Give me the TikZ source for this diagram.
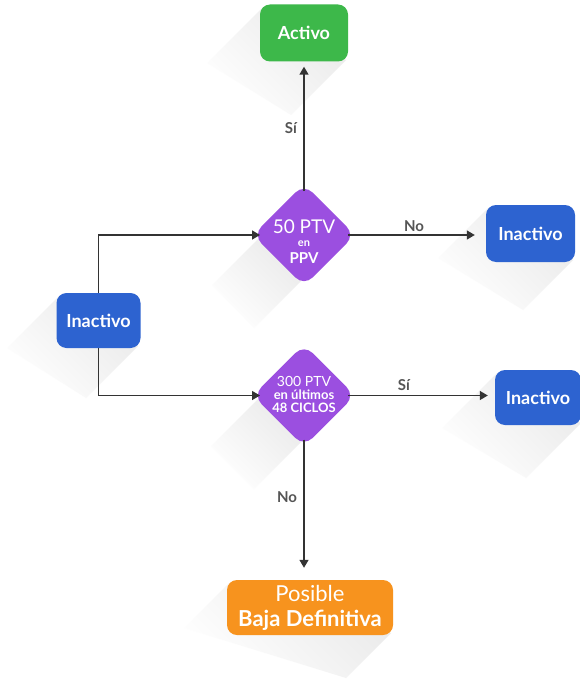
\documentclass[tikz,border=0pt]{standalone}
\usepackage{fontspec}
\setmainfont{Lato}
\usetikzlibrary{shapes.geometric,arrows.meta,calc}
\definecolor{cgreen}{HTML}{3DB84A}
\definecolor{cblue}{HTML}{2D63D0}
\definecolor{cpurple}{HTML}{9B4FE0}
\definecolor{corange}{HTML}{F7931E}
\definecolor{cline}{HTML}{333333}
\definecolor{clabel}{HTML}{555555}
\newcommand\longshd[3]{%
  \shade[top color=black!16, bottom color=white, shading angle=-45, opacity=.5]
    (#1) -- ++(-#3,#3) -- ($(#2)+(-#3,#3)$) -- (#2) -- cycle;}
\begin{document}
\begin{tikzpicture}[x=1pt,y=-1pt,
  box/.style={rounded corners=10pt, text=white, inner sep=0pt,
    font=\bfseries\fontsize{18}{20}\selectfont},
  dia/.style={diamond, aspect=1, fill=cpurple, rounded corners=12pt,
    minimum width=98pt, minimum height=98pt, inner sep=0pt, outer sep=-5pt},
  dtext/.style={text=white, inner sep=0pt},
  arr/.style={draw=cline, line width=1.4pt, -{Triangle[length=8pt,width=9pt]}},
  lbl/.style={text=clabel, font=\bfseries\fontsize{15}{17}\selectfont, inner sep=0pt}]
\fill[white] (0,0) rectangle (580,690);
\path[use as bounding box] (0,0) rectangle (580,690);

% long shadows
\longshd{262,8}{346,60}{55}
\longshd{59,296}{138,346}{52}
\longshd{488,208}{573,260}{50}
\longshd{497,373}{581,423}{55}
\longshd{229,583}{391,633}{45}
\longshd{262,235}{304,278}{50}
\longshd{261,396}{304,439}{50}

% nodes
\node[box, fill=cgreen, minimum width=88pt, minimum height=57pt] (act) at (304,33) {Activo};
\node[box, fill=cblue, minimum width=84pt, minimum height=55pt] (inL) at (98.5,320.5) {Inactivo};
\node[box, fill=cblue, minimum width=89pt, minimum height=57pt] (inR1) at (530.5,233.5) {Inactivo};
\node[box, fill=cblue, minimum width=86pt, minimum height=55pt] (inR2) at (538,397.5) {Inactivo};
\node[box, fill=corange, minimum width=166pt, minimum height=55pt, align=center,
  font=\fontsize{22}{25}\selectfont] (baja) at (310,607.5)
  {Posible\\\textbf{Baja Definitiva}};

\node[dia] (d1) at (304,235) {};
\node[dtext, font=\fontsize{19}{21}\selectfont] (d1a) at (304,227) {50 PTV};
\node[dtext, font=\bfseries\fontsize{11}{12}\selectfont] (d1b) at (304,244) {en};
\node[dtext, font=\bfseries\fontsize{15}{16}\selectfont] (d1c) at (304,258) {PPV};

\node[dia] (d2) at (304,395.5) {};
\node[dtext, font=\fontsize{14}{15}\selectfont] (d2a) at (304,381) {300 PTV};
\node[dtext, font=\bfseries\fontsize{13}{14}\selectfont] (d2b) at (304,394.5) {en últimos};
\node[dtext, font=\bfseries\fontsize{13}{14}\selectfont] (d2c) at (304,408) {48 CICLOS};

% connector end points
\coordinate (actIn) at ([yshift=-5pt]act.south);
\coordinate (r1In) at ([xshift=-11pt]inR1.west);
\coordinate (r2In) at ([xshift=-7pt]inR2.west);
\coordinate (bajaIn) at ([yshift=12pt]baja.north);

% connectors
\draw[arr] (inL.north) |- (d1.west);
\draw[arr] (inL.south) |- (d2.west);
\draw[arr] (d1.north) -- (d1.north |- actIn);
\draw[arr] (d1.east) -- (d1.east -| r1In);
\draw[arr] (d2.east) -- (d2.east -| r2In);
\draw[arr] (d2.south) -- (d2.south |- bajaIn);

% labels
\node[lbl] (l1) at (291,128) {Sí};
\node[lbl] (l2) at (414,226) {No};
\node[lbl] (l3) at (404,385) {Sí};
\node[lbl] (l4) at (287,497) {No};
\end{tikzpicture}
\end{document}
